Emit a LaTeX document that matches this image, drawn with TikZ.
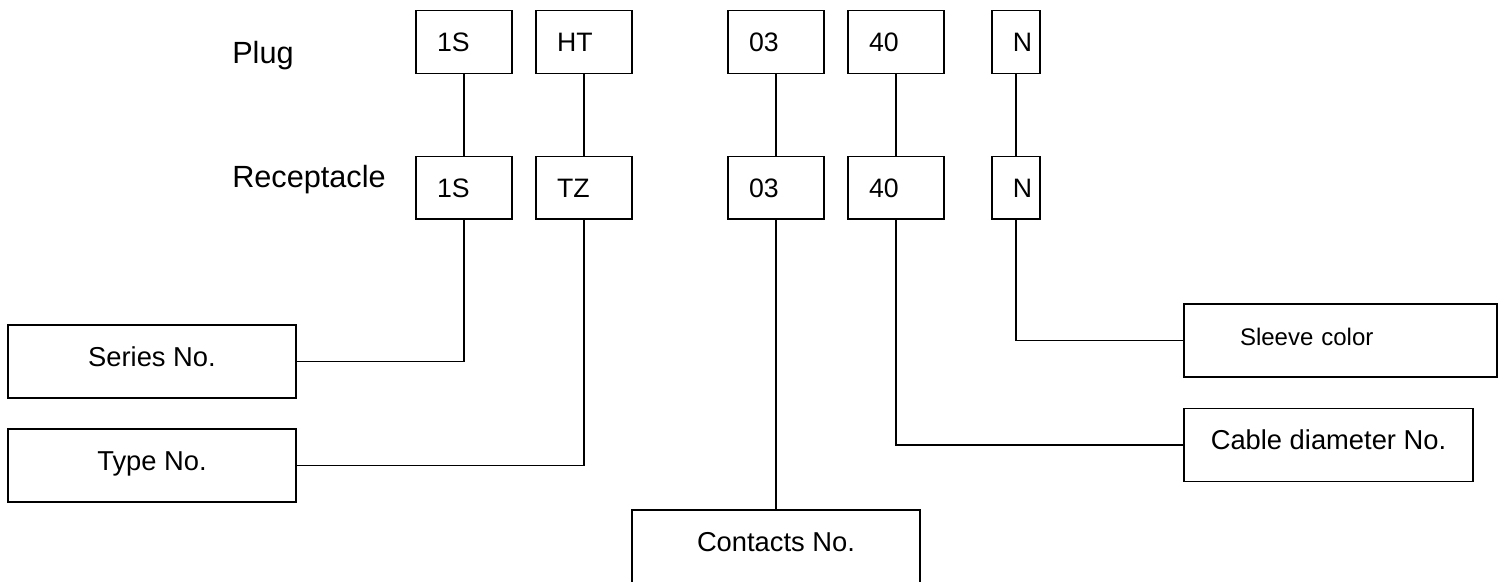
\documentclass[tikz,border=0pt]{standalone}
\usepackage{fontspec}
\setmainfont{Liberation Sans}

\tikzset{
  codebox/.style={draw, line width=1pt, minimum height=47pt, inner ysep=0pt,
    inner xsep=15.75pt, text width=40.5pt, align=left,
    font=\fontsize{20}{24}\selectfont, text height=14.3pt, text depth=0pt},
  namebox/.style={draw, line width=1pt, minimum width=216pt, minimum height=54.75pt,
    inner sep=0pt, align=center,
    font=\fontsize{20.5}{24}\selectfont, text height=14pt, text depth=6.8pt},
  rowlabel/.style={anchor=base west, inner sep=0pt, font=\fontsize{23}{27}\selectfont},
  link/.style={line width=0.8pt}
}

\begin{document}
\begin{tikzpicture}[x=0.75pt, y=-0.75pt]
\useasboundingbox (0,0) rectangle (1504,582);

% row names
\node[rowlabel] (plug) at (232,63) {Plug};
\node[rowlabel] (recep) at (232,187) {Receptacle};

% plug and receptacle codes
\foreach \n/\x/\p/\r in {1/464/1S/1S, 2/584/HT/TZ, 3/776/03/03, 4/896/40/40} {
  \node[codebox] (p\n) at (\x,42) {\p};
  \node[codebox] (r\n) at (\x,187.5) {\r};
  \draw[link] (p\n) -- (r\n);
}
\node[codebox, inner xsep=6pt, text width=24pt, align=right] (p5) at (1016,42) {N};
\node[codebox, inner xsep=6pt, text width=24pt, align=right] (r5) at (1016,187.5) {N};
\draw[link] (p5) -- (r5);

% meaning of each code
\node[namebox] (series) at (152,361.5) {Series No.};
\node[namebox] (type) at (152,465.5) {Type No.};
\node[namebox] (contacts) at (776,546.5) {Contacts No.};
\node[namebox, minimum width=216.75pt] (cable) at (1328.5,445) {Cable diameter No.};
\node[namebox, inner xsep=42pt, text width=150.75pt, align=left,
  font=\fontsize{18}{22}\selectfont] (sleeve) at (1340.5,340.5) {Sleeve color};

\draw[link] (r1.south) |- (series.east);
\draw[link] (r2.south) |- (type.east);
\draw[link] (r3) -- (contacts);
\draw[link] (r4.south) |- (cable.west);
\draw[link] (r5.south) |- (sleeve.west);
\end{tikzpicture}
\end{document}
